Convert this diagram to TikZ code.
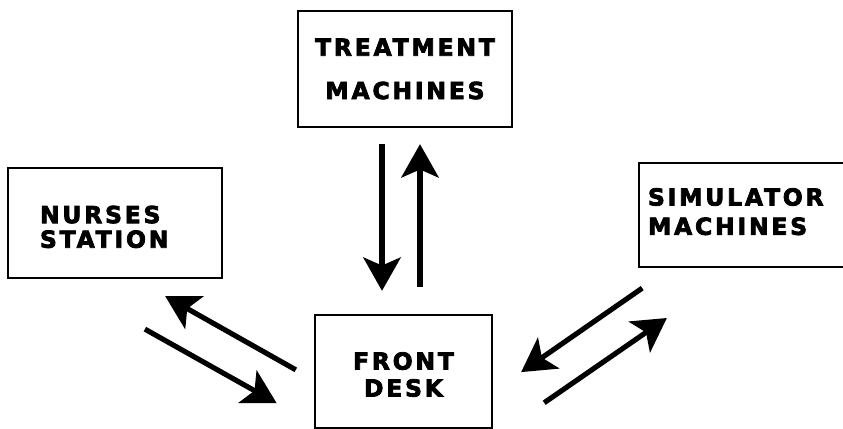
\documentclass[tikz,border=0pt]{standalone}
\usepackage{fontspec}
\newfontfamily\boxfont{DejaVu Sans Bold}[LetterSpace=12, FakeBold=3.2]
\usetikzlibrary{arrows.meta, positioning}

\begin{document}
\begin{tikzpicture}[
        x=0.03cm, y=-0.03cm,
        unit/.style={rectangle, draw, line width=2pt, inner sep=0pt,
            font=\boxfont\fontsize{20}{23}\selectfont},
        flow/.style={-{Stealth[length=1.0cm, width=1.12cm, inset=0.24cm]}, line width=4.4pt}
    ]
        \useasboundingbox (0,0) rectangle (843,429);

        % Boxes
        \node[unit, minimum width=6.42cm, minimum height=3.48cm, align=center] (treat) at (405,69)
            {TREATMENT\\[14pt]MACHINES};
        \node[unit, text width=4.5cm, inner xsep=0.96cm, minimum height=3.3cm, align=left] (nurses) at (115,223)
            {\rule{0pt}{21.5pt}NURSES\\[-2pt]STATION};
        \node[unit, text width=6.09cm, inner xsep=0.27cm, minimum height=3.12cm, align=left] (sim) at (749.5,215)
            {SIMULATOR\\[2pt]MACHINES\rule[-6pt]{0pt}{6pt}};
        \node[unit, minimum width=5.31cm, minimum height=3.39cm, align=center] (front) at (403.5,371.5)
            {\rule{0pt}{20pt}FRONT\\DESK};

        % Treatment <-> Front desk
        \draw[flow, shorten <=0.48cm, shorten >=0.69cm] (treat.south -| 382,0) -- (front.north -| 382,0);
        \draw[flow, shorten <=0.81cm, shorten >=0.48cm] (front.north -| 420,0) -- (treat.south -| 420,0);

        % Nurses <-> Front desk
        \draw[flow, shorten <=0.62cm, shorten >=1.04cm] (front.west |- 0,380) -- (nurses.south -| 135,0);
        \draw[flow, shorten <=3.06cm, shorten >=1.28cm] (nurses.south -| 56,0) -- (front.west |- 0,424);

        % Simulator <-> Front desk
        \draw[flow, shorten <=1.05cm, shorten >=1.02cm] (sim.south -| 671,0) -- (front.east |- 0,391.5);
        \draw[flow, shorten <=1.86cm, shorten >=2.63cm] (front.east |- 0,438) -- (sim.south -| 739,0);
    \end{tikzpicture}
\end{document}
